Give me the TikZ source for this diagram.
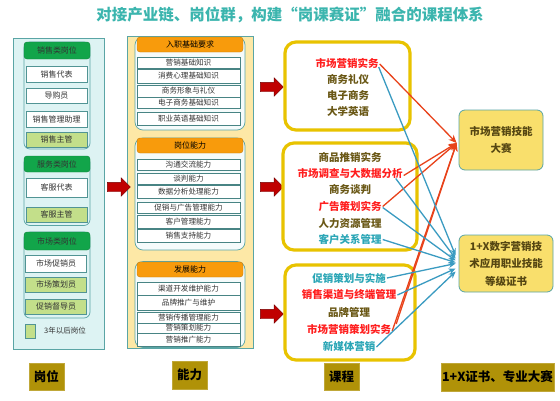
\documentclass[tikz,border=0pt]{standalone}
\usepackage{fontspec}
\setmainfont{Noto Sans CJK SC}
\usetikzlibrary{shapes.arrows,arrows.meta}
\definecolor{titlec}{HTML}{3BB5AE}
\definecolor{c1fill}{HTML}{DDF3F3}
\definecolor{tealline}{HTML}{5AA5A5}
\definecolor{hgreen}{HTML}{12A54A}
\definecolor{lgreen}{HTML}{C3DF8A}
\definecolor{c2fill}{HTML}{FDE8A6}
\definecolor{horange}{HTML}{F89B0C}
\definecolor{gold}{HTML}{E8C300}
\definecolor{cred}{HTML}{FF1E1E}
\definecolor{colive}{HTML}{6A5816}
\definecolor{cteal}{HTML}{2BA6B6}
\definecolor{ared}{HTML}{E8421A}
\definecolor{ateal}{HTML}{3A9BC1}
\definecolor{yfill}{HTML}{F9DF6C}
\definecolor{lblfill}{HTML}{B09208}
\definecolor{bred}{HTML}{C00000}
\definecolor{textdk}{HTML}{333333}
\begin{document}
\begin{tikzpicture}[x=1pt,y=-1pt,
  wh/.style 2 args={minimum width=#1 pt, minimum height=#2 pt},
  outer1/.style={draw=tealline, fill=c1fill, line width=0.8pt, inner sep=0pt},
  outer2/.style={draw=tealline, fill=c2fill, line width=0.8pt, inner sep=0pt},
  grp1/.style={draw=tealline, fill=c1fill, rounded corners=6pt, line width=0.7pt, inner sep=0pt},
  grp2/.style={draw=tealline, fill=white!70!c1fill, rounded corners=8pt, line width=0.7pt, inner sep=0pt},
  hdrg/.style={draw=hgreen!80!black, fill=hgreen, rounded corners=3pt, inner sep=0pt, text=textdk, font=\fontsize{8}{9}\selectfont},
  hdro/.style={draw=horange!80!black, fill=horange, rounded corners=3pt, inner sep=0pt, text=black, font=\fontsize{8}{9}\selectfont},
  itw/.style={draw=tealline!90!black, fill=white, inner sep=0pt, text=textdk, font=\fontsize{8}{9}\selectfont},
  itg/.style={draw=tealline!90!black, fill=lgreen, inner sep=0pt, text=textdk, font=\fontsize{8}{9}\selectfont},
  it2/.style={draw=tealline!80!black, fill=white, inner sep=0pt, text=textdk, minimum width=103pt, font=\fontsize{7.6}{8}\selectfont},
  frame3/.style={draw=gold, line width=3.2pt, fill=white, rounded corners=11pt, inner sep=0pt},
  crs/.style={inner sep=1pt, font=\fontsize{10.5}{11}\selectfont\bfseries},
  cr/.style={crs, text=cred},
  co/.style={crs, text=colive},
  ct/.style={crs, text=cteal},
  goal/.style={draw=tealline, fill=yfill, rounded corners=6pt, line width=0.8pt, align=center, text=colive!80!black, font=\fontsize{10.5}{17.5}\selectfont\bfseries},
  lbl/.style={fill=lblfill, draw=lblfill!80!white, inner sep=0pt, text=black, font=\fontsize{12.5}{13}\selectfont\bfseries},
  barrow/.style={single arrow, fill=bred, draw=bred!60!black, inner sep=4.5pt, minimum width=18pt, single arrow head extend=4.5pt, minimum height=23pt},
  rl/.style={draw=ared, line width=1.3pt, -{Stealth[length=8pt,width=7pt]}},
  tl/.style={draw=ateal, line width=1.3pt, -{Stealth[length=7pt,width=6pt]}}
]
\useasboundingbox (0,0) rectangle (560,400);
\fill[white] (0,0) rectangle (560,400);

% title
\node[text=titlec, font=\fontsize{15.5}{16}\selectfont\bfseries] (title) at (290,15) {对接产业链、岗位群，构建“岗课赛证”融合的课程体系};

% ---------- column 1 ----------
\node[outer1, wh={91}{311}] (col1) at (58.5,194) {};
\node[grp1, wh={66}{107}] (g11) at (57,95.5) {};
\node[hdrg, wh={66}{17}] (h11) at (57,50.5) {销售类岗位};
\node[itw, wh={61}{16}] (i11) at (56.5,74) {销售代表};
\node[itw, wh={61}{15}] (i12) at (56.5,95.5) {导购员};
\node[itw, wh={61}{16}] (i13) at (56.5,119) {销售管理助理};
\node[itg, wh={61}{15}] (i14) at (56.5,139.5) {销售主管};

\node[grp1, wh={66}{69}] (g12) at (57,191) {};
\node[hdrg, wh={66}{16}] (h12) at (57,164) {服务类岗位};
\node[itw, wh={61}{19}] (i21) at (56.5,187.5) {客服代表};
\node[itg, wh={61}{15}] (i22) at (56.5,214.5) {客服主管};

\node[grp1, wh={66}{86}] (g13) at (57,275) {};
\node[hdrg, wh={66}{18}] (h13) at (57,241) {市场类岗位};
\node[itw, wh={61}{17}] (i31) at (56,263.5) {市场促销员};
\node[itg, wh={61}{15}] (i32) at (56,284.5) {市场策划员};
\node[itg, wh={61}{15}] (i33) at (56,306.5) {促销督导员};

\node[itg, wh={10}{14}] (leg) at (30,331) {};
\node[anchor=west, inner sep=0pt, text=textdk, font=\fontsize{7.5}{8}\selectfont] (legt) at (44,331) {3年以后岗位};

% ---------- column 2 ----------
\node[outer2, wh={126}{312}] (col2) at (190,192) {};
\node[grp2, wh={110}{93}] (g21) at (190,83.5) {};
\node[hdro, wh={106}{15}] (h21) at (190,44.5) {入职基础要求};
\node[it2, minimum height=11pt] (a1) at (188.5,62.5) {营销基础知识};
\node[it2, minimum height=14pt] (a2) at (188.5,76) {消费心理基础知识};
\node[it2, minimum height=12pt] (a3) at (188.5,91) {商务形象与礼仪};
\node[it2, minimum height=11pt] (a4) at (188.5,102.5) {电子商务基础知识};
\node[it2, minimum height=13pt] (a5) at (188.5,118.5) {职业英语基础知识};

\node[grp2, wh={110}{112}] (g22) at (190,194) {};
\node[hdro, wh={106}{15}] (h22) at (190,145.5) {岗位能力};
\node[it2, minimum height=11pt] (b1) at (188.5,164.5) {沟通交流能力};
\node[it2, minimum height=11pt] (b2) at (188.5,179) {谈判能力};
\node[it2, minimum height=13pt] (b3) at (188.5,191.5) {数据分析处理能力};
\node[it2, minimum height=11pt] (b4) at (188.5,207.5) {促销与广告管理能力};
\node[it2, minimum height=13pt] (b5) at (188.5,221.5) {客户管理能力};
\node[it2, minimum height=13pt] (b6) at (188.5,235.5) {销售支持能力};

\node[grp2, wh={110}{86}] (g23) at (190,304.5) {};
\node[hdro, wh={106}{15}] (h23) at (190,269.5) {发展能力};
\node[it2, minimum height=13pt] (d1) at (188.5,288.5) {渠道开发维护能力};
\node[it2, minimum height=15pt] (d2) at (188.5,302.5) {品牌推广与维护};
\node[it2, minimum height=11pt] (d3) at (188.5,317.5) {营销传播管理能力};
\node[it2, minimum height=10pt] (d4) at (188.5,328) {营销策划能力};
\node[it2, minimum height=13pt] (d5) at (188.5,339.5) {营销推广能力};

% ---------- block arrows ----------
\node[barrow] (ar1) at (116.5,187) {};
\node[barrow] (ar2) at (269.5,87) {};
\node[barrow] (ar3) at (269.5,187) {};
\node[barrow] (ar4) at (269.5,314) {};

% ---------- column 3 ----------
\node[frame3, wh={125}{88}] (f1) at (347.5,86) {};
\node[frame3, wh={134}{107}] (f2) at (350,196.5) {};
\node[frame3, wh={130}{95}] (f3) at (350,312.5) {};

\node[cr] (k11) at (347,63) {市场营销实务};
\node[co] (k12) at (348,79) {商务礼仪};
\node[co] (k13) at (348,95) {电子商务};
\node[co] (k14) at (348,111) {大学英语};

\node[co] (k21) at (350,157) {商品推销实务};
\node[cr] (k22) at (350,173.5) {市场调查与大数据分析};
\node[co] (k23) at (350,190) {商务谈判};
\node[cr] (k24) at (350,206.5) {广告策划实务};
\node[co] (k25) at (350,223) {人力资源管理};
\node[ct] (k26) at (350,239.5) {客户关系管理};

\node[ct] (k31) at (349,278) {促销策划与实施};
\node[cr] (k32) at (349,295) {销售渠道与终端管理};
\node[co] (k33) at (349,312) {品牌管理};
\node[cr] (k34) at (349,329) {市场营销策划实务};
\node[ct] (k35) at (349,346) {新媒体营销};

% ---------- column 4 ----------
\node[goal, wh={84}{60}] (A) at (501,140) {市场营销技能\\大赛};
\node[goal, wh={94}{57}] (B) at (506,263.5) {1+X数字营销技\\术应用职业技能\\等级证书};

% ---------- connectors ----------
\draw[rl] ([yshift=-1pt]k11.east) -- ([xshift=-2pt,yshift=-3pt]A.west);
\draw[rl] ([yshift=-2pt]k22.east) -- ([xshift=-2pt,yshift=-3pt]A.west);
\draw[rl] (k24.east) -- ([xshift=-2pt,yshift=-3pt]A.west);
\draw[rl] ([yshift=-2pt]k34.east) -- ([xshift=-2pt,yshift=-3pt]A.west);
\draw[rl] ([xshift=4pt,yshift=5pt]k34.east) -- ([xshift=-2pt,yshift=-3pt]A.west);

\draw[tl] ([xshift=-1pt,yshift=-4pt]k11.east) -- ([xshift=-3pt,yshift=8pt]B.west);
\draw[tl] ([xshift=-8pt,yshift=-5pt]k22.east) -- ([xshift=-3pt,yshift=5pt]B.west);
\draw[tl] ([yshift=-1pt]k24.east) -- ([xshift=-3pt,yshift=3pt]B.west);
\draw[tl] (k26.east) -- ([xshift=-3pt,yshift=1pt]B.west);
\draw[tl] (k31.east) -- ([xshift=-3pt,yshift=-0pt]B.west);
\draw[tl] (k32.east) -- ([xshift=-3pt,yshift=-5pt]B.west);
\draw[tl] ([yshift=-1pt]k35.east) -- ([xshift=-3pt,yshift=-8pt]B.west);

% ---------- labels ----------
\node[lbl, wh={35}{27}] (l1) at (46.5,376.5) {岗位};
\node[lbl, wh={35}{28}] (l2) at (189.5,375) {能力};
\node[lbl, wh={35}{27}] (l3) at (341.5,376.5) {课程};
\node[lbl, wh={113}{28}] (l4) at (497.5,377) {1+X证书、专业大赛};
\end{tikzpicture}
\end{document}
